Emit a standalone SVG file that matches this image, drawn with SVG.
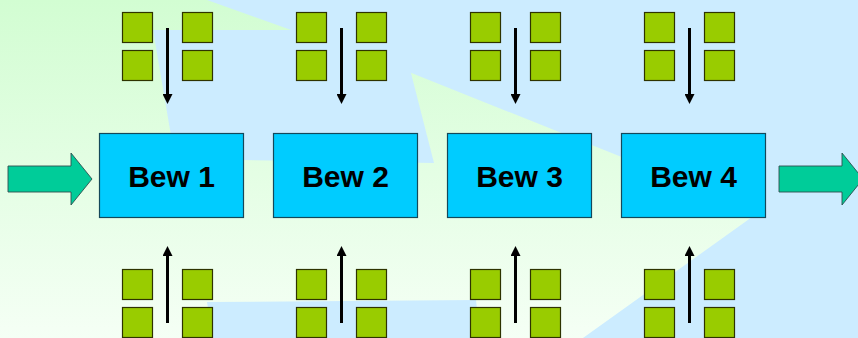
<svg xmlns="http://www.w3.org/2000/svg" width="858" height="338" viewBox="0 0 858 338">
  <defs>
    <linearGradient id="bg" x1="0" y1="0" x2="0" y2="1">
      <stop offset="0" stop-color="#D2FDD2"/>
      <stop offset="1" stop-color="#F5FFF5"/>
    </linearGradient>
    <marker id="ah" markerUnits="userSpaceOnUse" markerWidth="10" markerHeight="10" viewBox="0 0 10 10" refX="0" refY="5" orient="auto">
      <path d="M0,0 L10,5 L0,10 z" fill="#000"/>
    </marker>
    <rect id="sq" width="30" height="30"/>
  </defs>
  <style>
    .blue{fill:#CCECFF;}
    .box{fill:#00CCFF;stroke:#14485A;stroke-width:1.2;}
    .lbl{font-family:"Liberation Sans",Arial,sans-serif;font-weight:bold;font-size:30px;fill:#000;text-anchor:middle;}
    .sq{fill:#99CC00;stroke:#2E3300;stroke-width:1.2;}
    .big{fill:#00CC99;stroke:#2F4F4F;stroke-width:0.9;}
    .conn{stroke:#000;stroke-width:3;fill:none;marker-end:url(#ah);}
  </style>

  <!-- background -->
  <rect width="858" height="338" fill="url(#bg)"/>
  <polygon class="blue" points="207,0 858,0 858,338 583,338 759,212 409,72"/>
  <polygon class="blue" points="153,30 400,30 434,163 175,159"/>
  <polygon class="blue" points="207,302 476,300 480,338 213,338"/>

  <!-- big flow arrows -->
  <g id="inArrow">
    <polygon class="big" points="8,166 71,166 71,153 92,179 71,205 71,192 8,192"/>
  </g>
  <g id="outArrow">
    <polygon class="big" points="779,166 842,166 842,153 863,179 842,205 842,192 779,192"/>
  </g>

  <!-- process nodes -->
  <g id="bew1"><rect class="box" x="99.5" y="133.5" width="144" height="84"/><text class="lbl" x="171.5" y="187">Bew 1</text></g>
  <g id="bew2"><rect class="box" x="273.5" y="133.5" width="144" height="84"/><text class="lbl" x="345.5" y="187">Bew 2</text></g>
  <g id="bew3"><rect class="box" x="447.5" y="133.5" width="144" height="84"/><text class="lbl" x="519.5" y="187">Bew 3</text></g>
  <g id="bew4"><rect class="box" x="621.5" y="133.5" width="144" height="84"/><text class="lbl" x="693.5" y="187">Bew 4</text></g>

  <!-- resource groups top -->
  <g id="top1" class="sq">
    <use href="#sq" x="122.5" y="12.5"/><use href="#sq" x="182.5" y="12.5"/>
    <use href="#sq" x="122.5" y="50.5"/><use href="#sq" x="182.5" y="50.5"/>
  </g>
  <g id="top2" class="sq">
    <use href="#sq" x="296.5" y="12.5"/><use href="#sq" x="356.5" y="12.5"/>
    <use href="#sq" x="296.5" y="50.5"/><use href="#sq" x="356.5" y="50.5"/>
  </g>
  <g id="top3" class="sq">
    <use href="#sq" x="470.5" y="12.5"/><use href="#sq" x="530.5" y="12.5"/>
    <use href="#sq" x="470.5" y="50.5"/><use href="#sq" x="530.5" y="50.5"/>
  </g>
  <g id="top4" class="sq">
    <use href="#sq" x="644.5" y="12.5"/><use href="#sq" x="704.5" y="12.5"/>
    <use href="#sq" x="644.5" y="50.5"/><use href="#sq" x="704.5" y="50.5"/>
  </g>

  <!-- resource groups bottom -->
  <g id="bot1" class="sq">
    <use href="#sq" x="122.5" y="269.5"/><use href="#sq" x="182.5" y="269.5"/>
    <use href="#sq" x="122.5" y="307.5"/><use href="#sq" x="182.5" y="307.5"/>
  </g>
  <g id="bot2" class="sq">
    <use href="#sq" x="296.5" y="269.5"/><use href="#sq" x="356.5" y="269.5"/>
    <use href="#sq" x="296.5" y="307.5"/><use href="#sq" x="356.5" y="307.5"/>
  </g>
  <g id="bot3" class="sq">
    <use href="#sq" x="470.5" y="269.5"/><use href="#sq" x="530.5" y="269.5"/>
    <use href="#sq" x="470.5" y="307.5"/><use href="#sq" x="530.5" y="307.5"/>
  </g>
  <g id="bot4" class="sq">
    <use href="#sq" x="644.5" y="269.5"/><use href="#sq" x="704.5" y="269.5"/>
    <use href="#sq" x="644.5" y="307.5"/><use href="#sq" x="704.5" y="307.5"/>
  </g>

  <!-- connectors -->
  <g id="connectors">
    <line class="conn" x1="167.5" y1="28" x2="167.5" y2="94"/>
    <line class="conn" x1="341.5" y1="28" x2="341.5" y2="94"/>
    <line class="conn" x1="515.5" y1="28" x2="515.5" y2="94"/>
    <line class="conn" x1="689.5" y1="28" x2="689.5" y2="94"/>
    <line class="conn" x1="167.5" y1="323" x2="167.5" y2="256"/>
    <line class="conn" x1="341.5" y1="323" x2="341.5" y2="256"/>
    <line class="conn" x1="515.5" y1="323" x2="515.5" y2="256"/>
    <line class="conn" x1="689.5" y1="323" x2="689.5" y2="256"/>
  </g>
</svg>
